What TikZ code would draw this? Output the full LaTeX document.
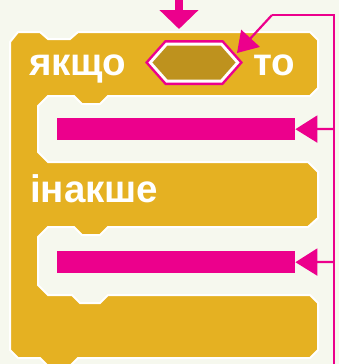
\documentclass[tikz,border=0pt]{standalone}
\usepackage{fontspec}
\setmainfont{Liberation Sans}
\usetikzlibrary{arrows.meta}
\definecolor{bg}{HTML}{F6F8EE}
\definecolor{blk}{HTML}{E5B122}
\definecolor{pk}{HTML}{EC008C}
\definecolor{hexgold}{HTML}{BE921E}
\begin{document}
\begin{tikzpicture}[x=1pt,y=-1pt,
  txt/.style={text=white, font=\bfseries\fontsize{38.5}{44}\selectfont, inner sep=0pt, anchor=base west},
  bar/.style={fill=pk, draw=none, inner sep=0pt, minimum width=238pt, minimum height=22pt, anchor=north west},
  pkline/.style={draw=pk, line width=2.2pt},
  pkarrow/.style={pkline, -{Triangle[length=22pt,width=27pt]}},
  diagarrow/.style={pkline, -{Triangle[length=20pt,width=25pt]}},
  downarrow/.style={draw=pk, line width=8pt, -{Triangle[length=19pt,width=38pt]}}]
\useasboundingbox (0,0) rectangle (339,364);
\fill[bg] (0,0) rectangle (339,364);
\clip (0,0) rectangle (339,364);
% block
\filldraw[fill=blk, draw=white, line width=2pt, line join=miter]
 (10,42) -- (18,32) -- (40,32) -- (48,39) -- (70,39) -- (78,32) -- (310,32) -- (318,40) -- (318,88) -- (310,96)
 -- (108,96) -- (100,104) -- (82,104) -- (74,96) -- (48,96) -- (38,106) -- (38,152) -- (48,162)
 -- (308,162) -- (318,172) -- (318,218) -- (308,227)
 -- (108,227) -- (100,235) -- (82,235) -- (74,227) -- (48,227) -- (38,237) -- (38,285) -- (48,295)
 -- (72,295) -- (80,303) -- (100,303) -- (108,295) -- (310,295) -- (318,303) -- (318,350) -- (310,358)
 -- (78,358) -- (70,366) -- (48,366) -- (40,358) -- (18,358) -- (10,350) -- cycle;
% hexagon
\path[draw=pk, line width=11pt, line join=miter]
 (152.4,62.5) -- (167.5,45.5) -- (220.5,45.5) -- (235.6,62.5) -- (220.5,79.5) -- (167.5,79.5) -- cycle;
\path[draw=white, line width=6pt, line join=miter]
 (152.4,62.5) -- (167.5,45.5) -- (220.5,45.5) -- (235.6,62.5) -- (220.5,79.5) -- (167.5,79.5) -- cycle;
\path[fill=hexgold]
 (152.4,62.5) -- (167.5,45.5) -- (220.5,45.5) -- (235.6,62.5) -- (220.5,79.5) -- (167.5,79.5) -- cycle;
\coordinate (hexnw) at (237,53);
\coordinate (hextop) at (179,29);
% texts
\node[txt] (ifword) at (29,75) {якщо};
\node[txt] (thenword) at (253,75) {то};
\node[txt] (elseword) at (30,202) {інакше};
% bars
\node[bar] (bar1) at (57,118) {};
\node[bar] (bar2) at (57,251) {};
% connectors
\coordinate (dtop) at (179,-4);
\coordinate (vbot) at (334,370);
\coordinate (vtop) at (334,15);
\coordinate (htop) at (272,15);
\coordinate (v1) at (334,129);
\coordinate (v2) at (334,262);
\draw[downarrow] (dtop) -- (hextop);
\draw[pkline, line join=miter] (vbot) -- (vtop) -- (htop);
\draw[diagarrow] (htop) -- (hexnw);
\draw[pkarrow] (v1) -- (bar1.east);
\draw[pkarrow] (v2) -- (bar2.east);
\end{tikzpicture}
\end{document}
